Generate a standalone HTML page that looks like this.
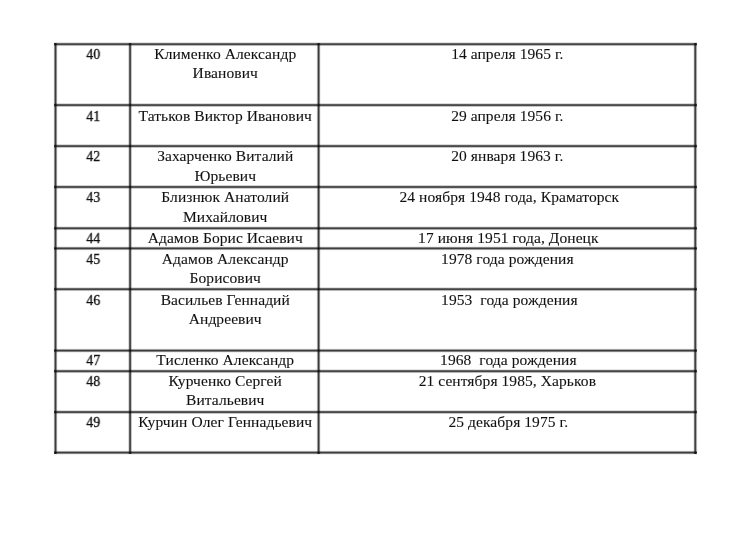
<!DOCTYPE html>
<html><head><meta charset="utf-8"><style>
html,body{margin:0;padding:0;background:#fff;width:740px;height:537px;overflow:hidden;position:relative}
i{position:absolute;display:block}
.c{position:absolute;text-align:center;font-family:"Liberation Serif",serif;font-size:15.5px;line-height:19px;color:#111;-webkit-text-stroke:0.1px #111;letter-spacing:0.08px;white-space:nowrap;will-change:transform}
</style></head><body>
<i style="left:54px;top:42px;width:643px;height:1px;background:rgba(0,0,0,0.108)"></i>
<i style="left:54px;top:43px;width:643px;height:1px;background:rgba(0,0,0,0.594)"></i>
<i style="left:54px;top:44px;width:643px;height:1px;background:rgba(0,0,0,0.732)"></i>
<i style="left:54px;top:45px;width:643px;height:1px;background:rgba(0,0,0,0.274)"></i>
<i style="left:54px;top:46px;width:643px;height:1px;background:rgba(0,0,0,0.012)"></i>
<i style="left:54px;top:103px;width:643px;height:1px;background:rgba(0,0,0,0.141)"></i>
<i style="left:54px;top:104px;width:643px;height:1px;background:rgba(0,0,0,0.638)"></i>
<i style="left:54px;top:105px;width:643px;height:1px;background:rgba(0,0,0,0.708)"></i>
<i style="left:54px;top:106px;width:643px;height:1px;background:rgba(0,0,0,0.225)"></i>
<i style="left:54px;top:144px;width:643px;height:1px;background:rgba(0,0,0,0.141)"></i>
<i style="left:54px;top:145px;width:643px;height:1px;background:rgba(0,0,0,0.638)"></i>
<i style="left:54px;top:146px;width:643px;height:1px;background:rgba(0,0,0,0.708)"></i>
<i style="left:54px;top:147px;width:643px;height:1px;background:rgba(0,0,0,0.225)"></i>
<i style="left:54px;top:185px;width:643px;height:1px;background:rgba(0,0,0,0.180)"></i>
<i style="left:54px;top:186px;width:643px;height:1px;background:rgba(0,0,0,0.676)"></i>
<i style="left:54px;top:187px;width:643px;height:1px;background:rgba(0,0,0,0.676)"></i>
<i style="left:54px;top:188px;width:643px;height:1px;background:rgba(0,0,0,0.180)"></i>
<i style="left:54px;top:226px;width:643px;height:1px;background:rgba(0,0,0,0.080)"></i>
<i style="left:54px;top:227px;width:643px;height:1px;background:rgba(0,0,0,0.546)"></i>
<i style="left:54px;top:228px;width:643px;height:1px;background:rgba(0,0,0,0.750)"></i>
<i style="left:54px;top:229px;width:643px;height:1px;background:rgba(0,0,0,0.327)"></i>
<i style="left:54px;top:230px;width:643px;height:1px;background:rgba(0,0,0,0.019)"></i>
<i style="left:54px;top:246px;width:643px;height:1px;background:rgba(0,0,0,0.058)"></i>
<i style="left:54px;top:247px;width:643px;height:1px;background:rgba(0,0,0,0.493)"></i>
<i style="left:54px;top:248px;width:643px;height:1px;background:rgba(0,0,0,0.761)"></i>
<i style="left:54px;top:249px;width:643px;height:1px;background:rgba(0,0,0,0.382)"></i>
<i style="left:54px;top:250px;width:643px;height:1px;background:rgba(0,0,0,0.028)"></i>
<i style="left:54px;top:287px;width:643px;height:1px;background:rgba(0,0,0,0.108)"></i>
<i style="left:54px;top:288px;width:643px;height:1px;background:rgba(0,0,0,0.594)"></i>
<i style="left:54px;top:289px;width:643px;height:1px;background:rgba(0,0,0,0.732)"></i>
<i style="left:54px;top:290px;width:643px;height:1px;background:rgba(0,0,0,0.274)"></i>
<i style="left:54px;top:291px;width:643px;height:1px;background:rgba(0,0,0,0.012)"></i>
<i style="left:54px;top:348px;width:643px;height:1px;background:rgba(0,0,0,0.028)"></i>
<i style="left:54px;top:349px;width:643px;height:1px;background:rgba(0,0,0,0.382)"></i>
<i style="left:54px;top:350px;width:643px;height:1px;background:rgba(0,0,0,0.761)"></i>
<i style="left:54px;top:351px;width:643px;height:1px;background:rgba(0,0,0,0.493)"></i>
<i style="left:54px;top:352px;width:643px;height:1px;background:rgba(0,0,0,0.058)"></i>
<i style="left:54px;top:369px;width:643px;height:1px;background:rgba(0,0,0,0.108)"></i>
<i style="left:54px;top:370px;width:643px;height:1px;background:rgba(0,0,0,0.594)"></i>
<i style="left:54px;top:371px;width:643px;height:1px;background:rgba(0,0,0,0.732)"></i>
<i style="left:54px;top:372px;width:643px;height:1px;background:rgba(0,0,0,0.274)"></i>
<i style="left:54px;top:373px;width:643px;height:1px;background:rgba(0,0,0,0.012)"></i>
<i style="left:54px;top:410px;width:643px;height:1px;background:rgba(0,0,0,0.141)"></i>
<i style="left:54px;top:411px;width:643px;height:1px;background:rgba(0,0,0,0.638)"></i>
<i style="left:54px;top:412px;width:643px;height:1px;background:rgba(0,0,0,0.708)"></i>
<i style="left:54px;top:413px;width:643px;height:1px;background:rgba(0,0,0,0.225)"></i>
<i style="left:54px;top:450px;width:643px;height:1px;background:rgba(0,0,0,0.028)"></i>
<i style="left:54px;top:451px;width:643px;height:1px;background:rgba(0,0,0,0.382)"></i>
<i style="left:54px;top:452px;width:643px;height:1px;background:rgba(0,0,0,0.761)"></i>
<i style="left:54px;top:453px;width:643px;height:1px;background:rgba(0,0,0,0.493)"></i>
<i style="left:54px;top:454px;width:643px;height:1px;background:rgba(0,0,0,0.058)"></i>
<i style="left:53px;top:43px;width:1px;height:411px;background:rgba(0,0,0,0.041)"></i>
<i style="left:54px;top:43px;width:1px;height:411px;background:rgba(0,0,0,0.438)"></i>
<i style="left:55px;top:43px;width:1px;height:411px;background:rgba(0,0,0,0.764)"></i>
<i style="left:56px;top:43px;width:1px;height:411px;background:rgba(0,0,0,0.438)"></i>
<i style="left:57px;top:43px;width:1px;height:411px;background:rgba(0,0,0,0.041)"></i>
<i style="left:128px;top:43px;width:1px;height:411px;background:rgba(0,0,0,0.141)"></i>
<i style="left:129px;top:43px;width:1px;height:411px;background:rgba(0,0,0,0.638)"></i>
<i style="left:130px;top:43px;width:1px;height:411px;background:rgba(0,0,0,0.708)"></i>
<i style="left:131px;top:43px;width:1px;height:411px;background:rgba(0,0,0,0.225)"></i>
<i style="left:316px;top:43px;width:1px;height:411px;background:rgba(0,0,0,0.028)"></i>
<i style="left:317px;top:43px;width:1px;height:411px;background:rgba(0,0,0,0.382)"></i>
<i style="left:318px;top:43px;width:1px;height:411px;background:rgba(0,0,0,0.761)"></i>
<i style="left:319px;top:43px;width:1px;height:411px;background:rgba(0,0,0,0.493)"></i>
<i style="left:320px;top:43px;width:1px;height:411px;background:rgba(0,0,0,0.058)"></i>
<i style="left:693px;top:43px;width:1px;height:411px;background:rgba(0,0,0,0.080)"></i>
<i style="left:694px;top:43px;width:1px;height:411px;background:rgba(0,0,0,0.546)"></i>
<i style="left:695px;top:43px;width:1px;height:411px;background:rgba(0,0,0,0.750)"></i>
<i style="left:696px;top:43px;width:1px;height:411px;background:rgba(0,0,0,0.327)"></i>
<i style="left:697px;top:43px;width:1px;height:411px;background:rgba(0,0,0,0.019)"></i>
<div class="c" style="top:44px;left:56.20px;width:74.60px;transform:scaleX(0.9);-webkit-text-stroke:0.35px #111">40</div>
<div class="c" style="top:44px;left:130.80px;width:188.50px;">Клименко Александр</div>
<div class="c" style="top:63px;left:130.80px;width:188.50px;">Иванович</div>
<div class="c" style="top:44px;left:318.60px;width:376.70px;">14 апреля 1965 г.</div>
<div class="c" style="top:106px;left:56.20px;width:74.60px;transform:scaleX(0.9);-webkit-text-stroke:0.35px #111">41</div>
<div class="c" style="top:106px;left:130.80px;width:188.50px;">Татьков Виктор Иванович</div>
<div class="c" style="top:106px;left:318.60px;width:376.70px;">29 апреля 1956 г.</div>
<div class="c" style="top:146px;left:56.20px;width:74.60px;transform:scaleX(0.9);-webkit-text-stroke:0.35px #111">42</div>
<div class="c" style="top:146px;left:130.80px;width:188.50px;">Захарченко Виталий</div>
<div class="c" style="top:166px;left:130.80px;width:188.50px;">Юрьевич</div>
<div class="c" style="top:146px;left:318.60px;width:376.70px;">20 января 1963 г.</div>
<div class="c" style="top:187px;left:56.20px;width:74.60px;transform:scaleX(0.9);-webkit-text-stroke:0.35px #111">43</div>
<div class="c" style="top:187px;left:130.80px;width:188.50px;">Близнюк Анатолий</div>
<div class="c" style="top:207px;left:130.80px;width:188.50px;">Михайлович</div>
<div class="c" style="top:187px;left:321.10px;width:376.70px;">24 ноября 1948 года, Краматорск</div>
<div class="c" style="top:228px;left:56.20px;width:74.60px;transform:scaleX(0.9);-webkit-text-stroke:0.35px #111">44</div>
<div class="c" style="top:228px;left:130.80px;width:188.50px;">Адамов Борис Исаевич</div>
<div class="c" style="top:228px;left:319.60px;width:376.70px;">17 июня 1951 года, Донецк</div>
<div class="c" style="top:249px;left:56.20px;width:74.60px;transform:scaleX(0.9);-webkit-text-stroke:0.35px #111">45</div>
<div class="c" style="top:249px;left:130.80px;width:188.50px;">Адамов Александр</div>
<div class="c" style="top:268px;left:130.80px;width:188.50px;">Борисович</div>
<div class="c" style="top:249px;left:318.60px;width:376.70px;">1978 года рождения</div>
<div class="c" style="top:290px;left:56.20px;width:74.60px;transform:scaleX(0.9);-webkit-text-stroke:0.35px #111">46</div>
<div class="c" style="top:290px;left:130.80px;width:188.50px;">Васильев Геннадий</div>
<div class="c" style="top:309px;left:130.80px;width:188.50px;">Андреевич</div>
<div class="c" style="top:290px;left:321.10px;width:376.70px;">1953&nbsp; года рождения</div>
<div class="c" style="top:350px;left:56.20px;width:74.60px;transform:scaleX(0.9);-webkit-text-stroke:0.35px #111">47</div>
<div class="c" style="top:350px;left:130.80px;width:188.50px;">Тисленко Александр</div>
<div class="c" style="top:350px;left:320.10px;width:376.70px;">1968&nbsp; года рождения</div>
<div class="c" style="top:371px;left:56.20px;width:74.60px;transform:scaleX(0.9);-webkit-text-stroke:0.35px #111">48</div>
<div class="c" style="top:371px;left:130.80px;width:188.50px;">Курченко Сергей</div>
<div class="c" style="top:390px;left:130.80px;width:188.50px;">Витальевич</div>
<div class="c" style="top:371px;left:318.60px;width:376.70px;">21 сентября 1985, Харьков</div>
<div class="c" style="top:412px;left:56.20px;width:74.60px;transform:scaleX(0.9);-webkit-text-stroke:0.35px #111">49</div>
<div class="c" style="top:412px;left:130.80px;width:188.50px;">Курчин Олег Геннадьевич</div>
<div class="c" style="top:412px;left:319.60px;width:376.70px;">25 декабря 1975 г.</div>
</body></html>
